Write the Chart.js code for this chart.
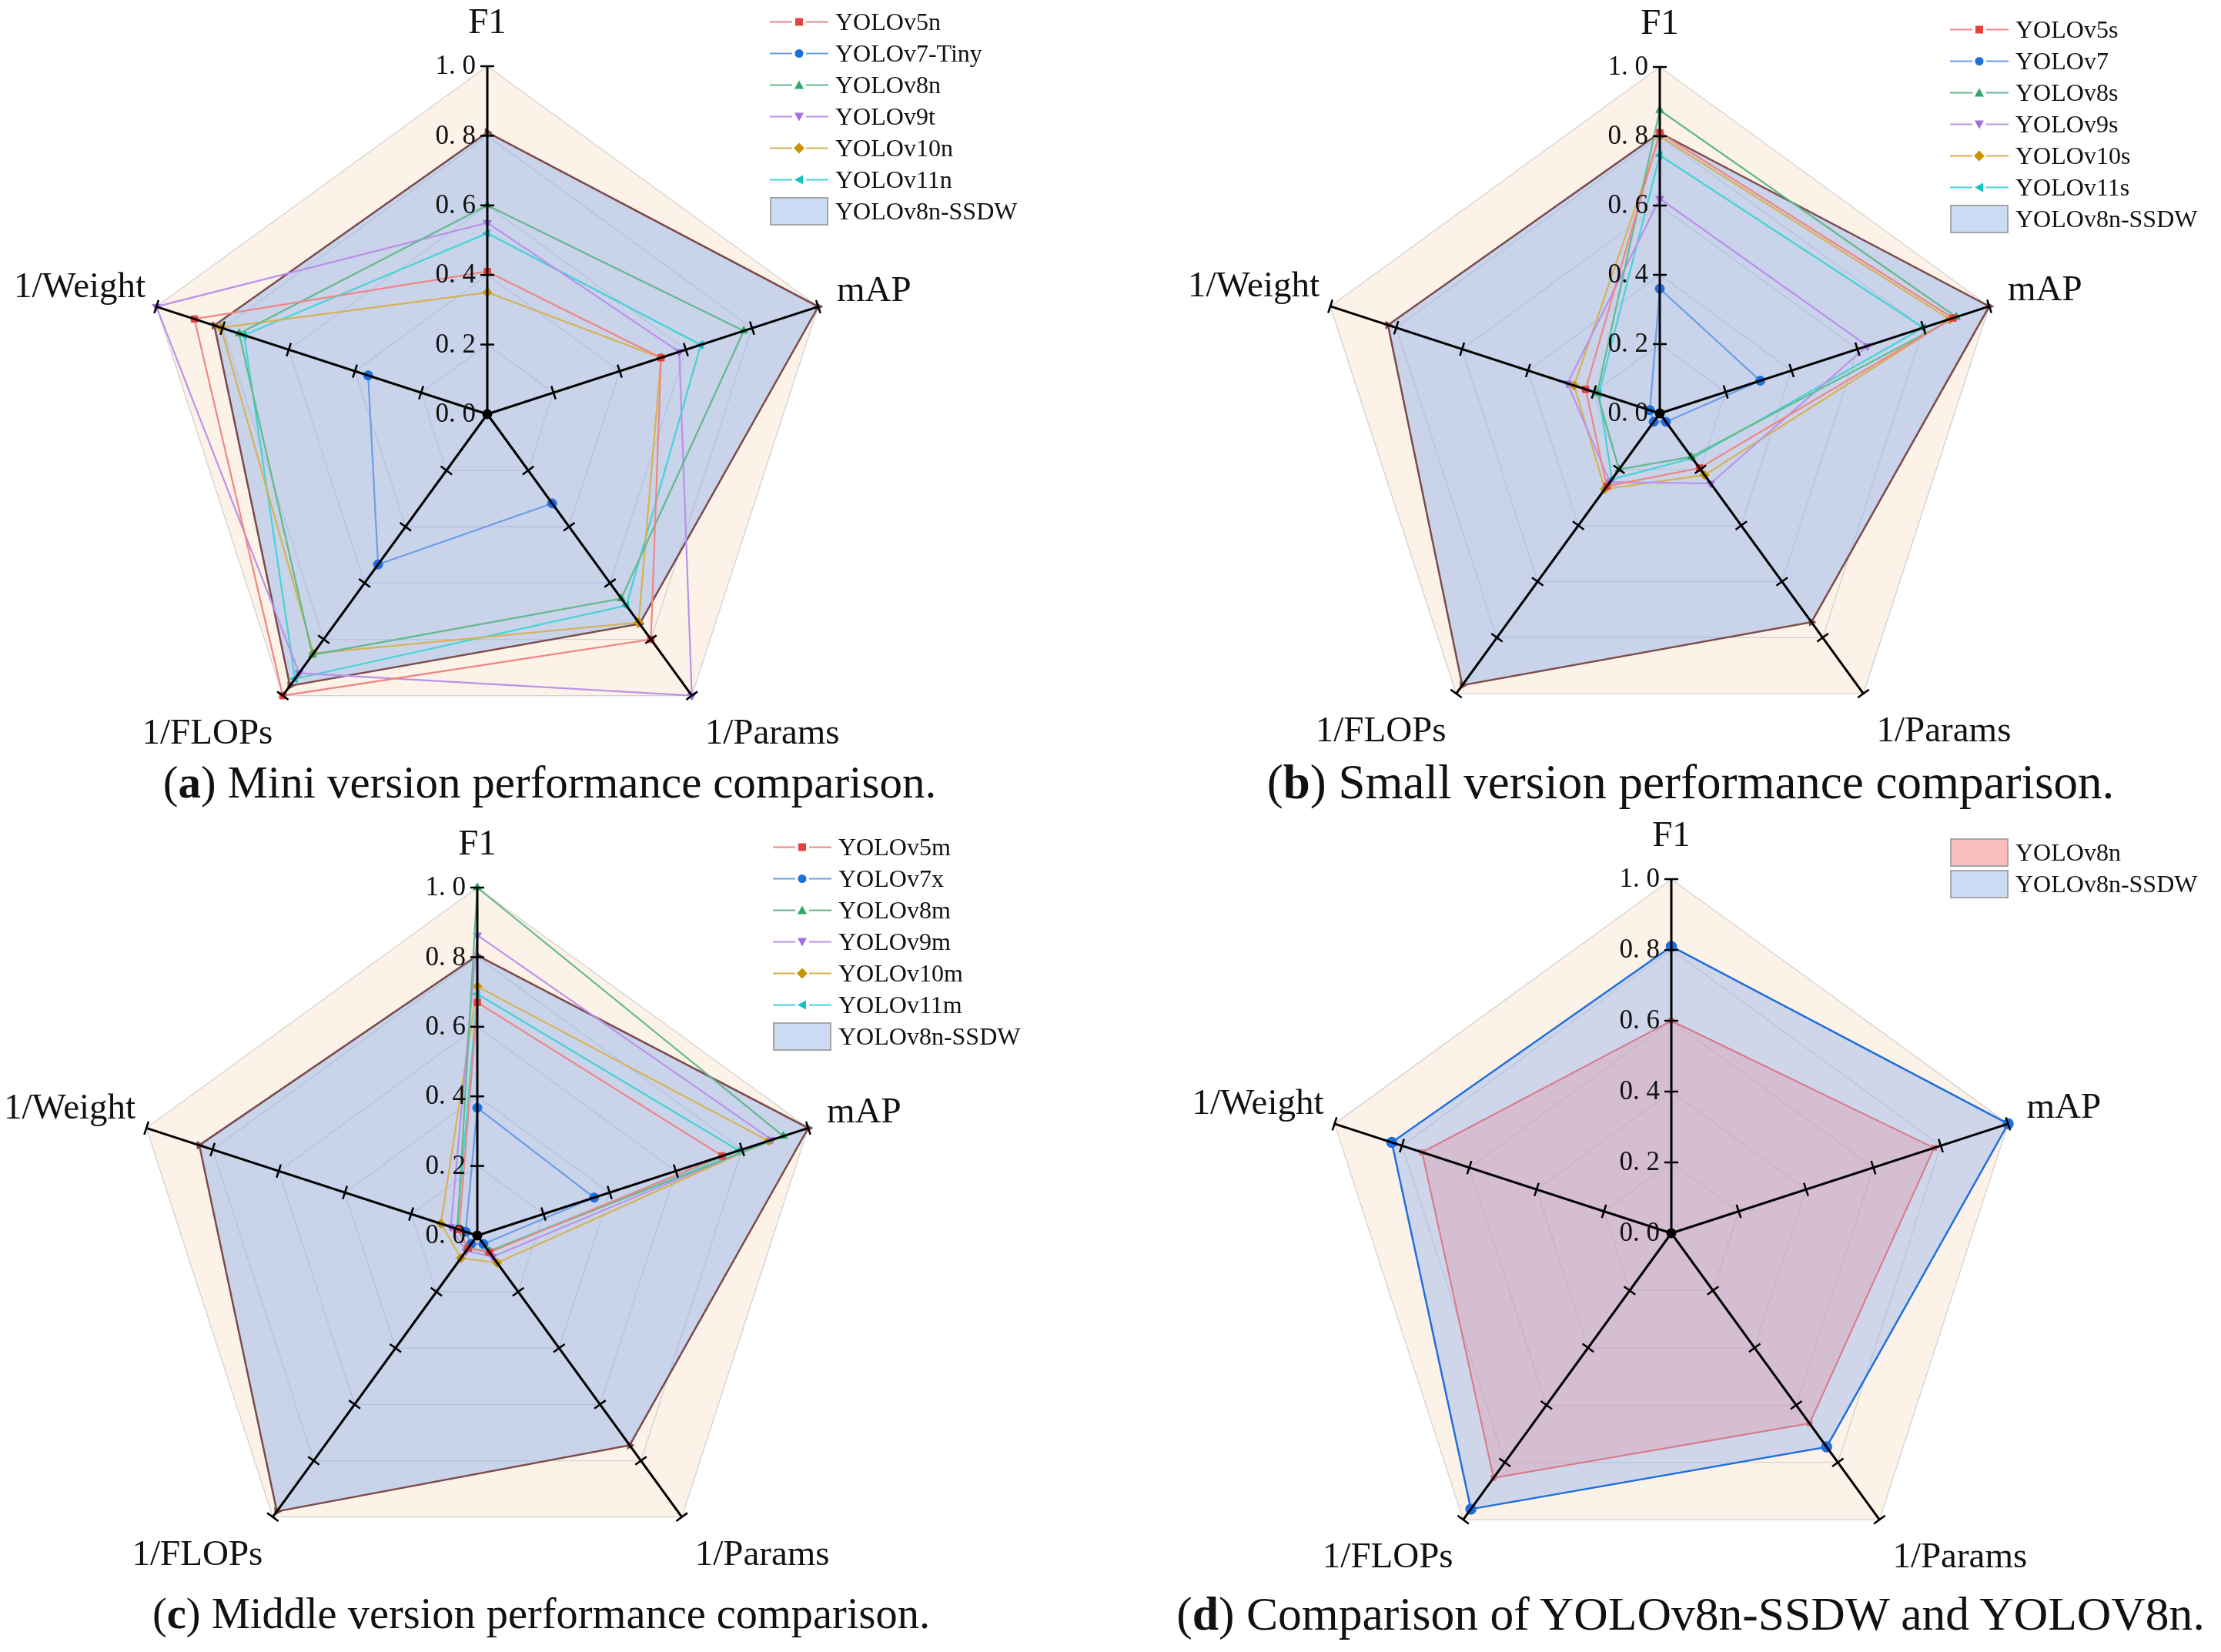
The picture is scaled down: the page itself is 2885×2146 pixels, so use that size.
<!DOCTYPE html>
<html>
<head>
<meta charset="utf-8">
<script src="https://cdn.jsdelivr.net/npm/chart.js@4.4.1/dist/chart.umd.min.js"></script>
<style>
  html, body { margin: 0; padding: 0; background: #fff; }
  #page { position: relative; width: 2885px; height: 2146px; overflow: hidden; font-family: "Liberation Serif", "Times New Roman", serif; color: #111; }
  canvas.panel { position: absolute; }
  .legend { position: absolute; font-size: 32px; }
  .legend .row { display: flex; align-items: center; height: 41px; white-space: nowrap; }
  .legend svg { margin-right: 9px; }
  .caption { position: absolute; white-space: nowrap; transform: translate(-50%, -50%); }
</style>
</head>
<body>
<div id="page">
  <canvas id="chartA" class="panel" width="1442" height="1073" style="left:0;top:0;width:1442px;height:1073px"></canvas>
  <canvas id="chartB" class="panel" width="1442" height="1073" style="left:1443px;top:0;width:1442px;height:1073px"></canvas>
  <canvas id="chartC" class="panel" width="1442" height="1103" style="left:0;top:1043px;width:1442px;height:1103px"></canvas>
  <canvas id="chartD" class="panel" width="1442" height="1103" style="left:1443px;top:1043px;width:1442px;height:1103px"></canvas>
  <div id="legendA" class="legend" style="left:1000px;top:8px"></div>
  <div id="legendB" class="legend" style="left:2533px;top:18px"></div>
  <div id="legendC" class="legend" style="left:1004px;top:1080px"></div>
  <div id="legendD" class="legend" style="left:2533px;top:1087px"></div>
  <div class="caption" style="left:714px;top:1016px;font-size:59px">(<b>a</b>) Mini version performance comparison.</div>
  <div class="caption" style="left:2196px;top:1016px;font-size:63px">(<b>b</b>) Small version performance comparison.</div>
  <div class="caption" style="left:703px;top:2096px;font-size:56.4px">(<b>c</b>) Middle version performance comparison.</div>
  <div class="caption" style="left:2196px;top:2096px;font-size:61.6px">(<b>d</b>) Comparison of YOLOv8n-SSDW and YOLOV8n.</div>
</div>
<script>
// Radar axes and tick values
const AXES = ['F1', 'mAP', '1/Params', '1/FLOPs', '1/Weight'];
const TICK_VALUES = [0, 0.2, 0.4, 0.6, 0.8, 1.0];

// (a) Mini versions -- values per model, in AXES order
const MINI_MODELS = ['YOLOv5n', 'YOLOv7-Tiny', 'YOLOv8n', 'YOLOv9t', 'YOLOv10n', 'YOLOv11n', 'YOLOv8n-SSDW'];
const MINI_VALUES = [
  [0.41, 0.525, 0.80, 1.00, 0.885],
  [null, null, 0.317, 0.534, 0.36],
  [0.60, 0.775, 0.655, 0.855, 0.75],
  [0.55, 0.58, 1.00, 0.92, 1.00],
  [0.35, 0.525, 0.74, 0.85, 0.805],
  [0.52, 0.645, 0.68, 0.94, 0.735],
  [0.81, 1.00, 0.745, 0.965, 0.825]
];

// (b) Small versions
const SMALL_MODELS = ['YOLOv5s', 'YOLOv7', 'YOLOv8s', 'YOLOv9s', 'YOLOv10s', 'YOLOv11s', 'YOLOv8n-SSDW'];
const SMALL_VALUES = [
  [0.81, 0.89, 0.195, 0.26, 0.225],
  [0.36, 0.305, 0.03, 0.03, 0.03],
  [0.875, 0.90, 0.155, 0.20, 0.19],
  [0.62, 0.63, 0.25, 0.245, 0.28],
  [0.80, 0.88, 0.22, 0.27, 0.26],
  [0.745, 0.80, 0.16, 0.235, 0.185],
  [0.81, 1.00, 0.745, 0.97, 0.825]
];

// (c) Middle versions
const MIDDLE_MODELS = ['YOLOv5m', 'YOLOv7x', 'YOLOv8m', 'YOLOv9m', 'YOLOv10m', 'YOLOv11m', 'YOLOv8n-SSDW'];
const MIDDLE_VALUES = [
  [0.67, 0.74, 0.06, 0.045, 0.055],
  [0.367, 0.353, 0.03, 0.03, 0.035],
  [1.00, 0.925, 0.056, 0.045, 0.06],
  [0.863, 0.89, 0.075, 0.055, 0.08],
  [0.716, 0.88, 0.097, 0.08, 0.11],
  [0.694, 0.79, 0.056, 0.045, 0.062],
  [0.805, 1.00, 0.745, 0.98, 0.84]
];

// (d) YOLOv8n vs YOLOv8n-SSDW
const PAIR_MODELS = ['YOLOv8n', 'YOLOv8n-SSDW'];
const PAIR_VALUES = [
  [0.60, 0.78, 0.664, 0.854, 0.74],
  [0.81, 1.00, 0.746, 0.963, 0.83]
];

// styles for the six baseline series (line colour, marker colour, marker shape)
const SERIES_STYLES = [
  { line: '#f08585', mark: '#e8403f', shape: 'rect', rot: 0, svg: 'square' },
  { line: '#6c9de8', mark: '#1c6fe0', shape: 'circle', rot: 0, svg: 'circle' },
  { line: '#62b98c', mark: '#2fa868', shape: 'triangle', rot: 0, svg: 'up' },
  { line: '#b992ea', mark: '#a26fe0', shape: 'triangle', rot: 180, svg: 'down' },
  { line: '#d7b252', mark: '#c99400', shape: 'rectRot', rot: 0, svg: 'diamond' },
  { line: '#45d3d6', mark: '#12c3c6', shape: 'triangle', rot: -90, svg: 'left' }
];
const SSDW_FILL = 'rgba(150,180,235,0.5)';
const SSDW_EDGE = '#7b4a4a';
const SERIF = '"Liberation Serif", "Times New Roman", serif';

// draws black axes with tick marks, tick labels on F1 axis and the axis names
const radarDecor = {
  id: 'radarDecor',
  afterDatasetsDraw(chart, args, opts) {
    const s = chart.scales.r;
    const ctx = chart.ctx;
    const n = chart.data.labels.length;
    ctx.save();
    ctx.strokeStyle = '#000';
    ctx.lineCap = 'butt';
    for (let i = 0; i < n; i++) {
      const end = s.getPointPositionForValue(i, 1);
      ctx.lineWidth = 3;
      ctx.beginPath();
      ctx.moveTo(s.xCenter, s.yCenter);
      ctx.lineTo(end.x, end.y);
      ctx.stroke();
      const px = -Math.sin(end.angle), py = Math.cos(end.angle);
      ctx.lineWidth = 2.5;
      TICK_VALUES.forEach(v => {
        if (v === 0) return;
        const p = s.getPointPositionForValue(i, v);
        ctx.beginPath();
        ctx.moveTo(p.x - px * 9, p.y - py * 9);
        ctx.lineTo(p.x + px * 9, p.y + py * 9);
        ctx.stroke();
      });
    }
    ctx.fillStyle = '#000';
    ctx.beginPath();
    ctx.arc(s.xCenter, s.yCenter, 6.5, 0, Math.PI * 2);
    ctx.fill();

    // tick labels along the F1 axis
    ctx.font = '35px ' + SERIF;
    ctx.textAlign = 'right';
    ctx.textBaseline = 'middle';
    ctx.fillStyle = '#111';
    TICK_VALUES.forEach(v => {
      const p = s.getPointPositionForValue(0, v);
      ctx.fillText(v.toFixed(1).replace('.', '. '), p.x - 15, p.y + 1);
    });

    // axis names
    ctx.font = '47px ' + SERIF;
    for (let i = 0; i < n; i++) {
      const p = s.getPointPositionForValue(i, 1);
      const o = opts.labelOffsets[i];
      ctx.textAlign = o[2];
      ctx.fillText(chart.data.labels[i], p.x + o[0], p.y + o[1]);
    }
    ctx.restore();
  }
};

function baselineDataset(name, values, st) {
  return {
    label: name, data: values, fill: false, spanGaps: false,
    borderColor: st.line, borderWidth: 2.2,
    pointStyle: st.shape, rotation: st.rot, pointRadius: 6, pointHoverRadius: 6,
    pointBackgroundColor: st.mark, pointBorderColor: st.mark, pointBorderWidth: 1
  };
}

function ssdwDataset(name, values) {
  return {
    label: name, data: values, fill: true,
    backgroundColor: SSDW_FILL, borderColor: SSDW_EDGE, borderWidth: 2.5,
    pointStyle: 'triangle', rotation: 90, pointRadius: 4,
    pointBackgroundColor: SSDW_EDGE, pointBorderColor: SSDW_EDGE
  };
}

function makeRadar(id, datasets, cx, cy, r) {
  const canvas = document.getElementById(id);
  const W = canvas.width, H = canvas.height;
  return new Chart(canvas, {
    type: 'radar',
    data: { labels: AXES, datasets: datasets },
    options: {
      responsive: false,
      animation: false,
      devicePixelRatio: 1,
      layout: { padding: { left: cx - r, right: W - cx - r, top: cy - r, bottom: H - cy - r } },
      elements: { line: { tension: 0 } },
      scales: {
        r: {
          min: 0, max: 1,
          backgroundColor: '#fdf2e8',
          ticks: { display: false, stepSize: 0.2 },
          grid: { color: '#d2d2d2', lineWidth: 1.3 },
          angleLines: { display: false },
          pointLabels: { display: false }
        }
      },
      plugins: {
        legend: { display: false },
        tooltip: { enabled: false },
        radarDecor: {
          labelOffsets: [[0, -55, 'center'], [24, -20, 'left'], [17, 50, 'left'], [-13, 50, 'right'], [-14, -25, 'right']]
        }
      }
    },
    plugins: [radarDecor]
  });
}

function markerSvg(kind, color, x, y) {
  if (kind === 'square') return `<rect x="${x - 5}" y="${y - 5}" width="10" height="10" fill="${color}"/>`;
  if (kind === 'circle') return `<circle cx="${x}" cy="${y}" r="5.5" fill="${color}"/>`;
  if (kind === 'up') return `<polygon points="${x},${y - 6} ${x + 6},${y + 5} ${x - 6},${y + 5}" fill="${color}"/>`;
  if (kind === 'down') return `<polygon points="${x - 6},${y - 5} ${x + 6},${y - 5} ${x},${y + 6}" fill="${color}"/>`;
  if (kind === 'diamond') return `<polygon points="${x},${y - 7} ${x + 7},${y} ${x},${y + 7} ${x - 7},${y}" fill="${color}"/>`;
  return `<polygon points="${x - 6},${y} ${x + 5},${y - 6} ${x + 5},${y + 6}" fill="${color}"/>`;
}

function buildLegend(id, models, boxes) {
  const el = document.getElementById(id);
  el.innerHTML = models.map((m, i) => {
    let icon;
    if (boxes[i]) {
      icon = `<svg width="76" height="41"><rect x="1" y="3" width="74" height="35" fill="${boxes[i]}" stroke="#a5a5a5" stroke-width="2"/></svg>`;
    } else {
      const st = SERIES_STYLES[i];
      icon = `<svg width="76" height="41"><line x1="0" y1="20.5" x2="29" y2="20.5" stroke="${st.line}" stroke-width="2"/>` +
        `<line x1="47" y1="20.5" x2="76" y2="20.5" stroke="${st.line}" stroke-width="2"/>` +
        markerSvg(st.svg, st.mark, 38, 20.5) + `</svg>`;
    }
    return `<div class="row">${icon}<span>${m}</span></div>`;
  }).join('');
}

function groupDatasets(models, values) {
  return models.map((m, i) => i < 6 ? baselineDataset(m, values[i], SERIES_STYLES[i]) : ssdwDataset(m, values[i]));
}

function drawAll() {
  makeRadar('chartA', groupDatasets(MINI_MODELS, MINI_VALUES), 633, 538, 452);
  makeRadar('chartB', groupDatasets(SMALL_MODELS, SMALL_VALUES), 2156 - 1443, 537, 450);
  makeRadar('chartC', groupDatasets(MIDDLE_MODELS, MIDDLE_VALUES), 620, 1605 - 1043, 452);
  makeRadar('chartD', [
    {
      label: PAIR_MODELS[0], data: PAIR_VALUES[0], fill: true,
      backgroundColor: 'rgba(228,140,160,0.32)', borderColor: '#d8788a', borderWidth: 2,
      pointStyle: 'rect', pointRadius: 4, pointBackgroundColor: '#d8788a', pointBorderColor: '#d8788a'
    },
    {
      label: PAIR_MODELS[1], data: PAIR_VALUES[1], fill: true,
      backgroundColor: 'rgba(150,180,235,0.45)', borderColor: '#1f6fe0', borderWidth: 2.5,
      pointStyle: 'circle', pointRadius: 6, pointBackgroundColor: '#1f6fe0', pointBorderColor: '#1f6fe0'
    }
  ], 2171 - 1443, 1602 - 1043, 460);
}

const boxes7 = [null, null, null, null, null, null, 'rgba(205,220,245,1)'];
buildLegend('legendA', MINI_MODELS, boxes7);
buildLegend('legendB', SMALL_MODELS, boxes7);
buildLegend('legendC', MIDDLE_MODELS, boxes7);
buildLegend('legendD', PAIR_MODELS, ['rgba(248,190,190,1)', 'rgba(205,220,245,1)']);

Promise.all([
  document.fonts.load('47px "Liberation Serif"'),
  document.fonts.load('35px "Liberation Serif"')
]).catch(() => null).then(drawAll);
</script>
</body>
</html>
